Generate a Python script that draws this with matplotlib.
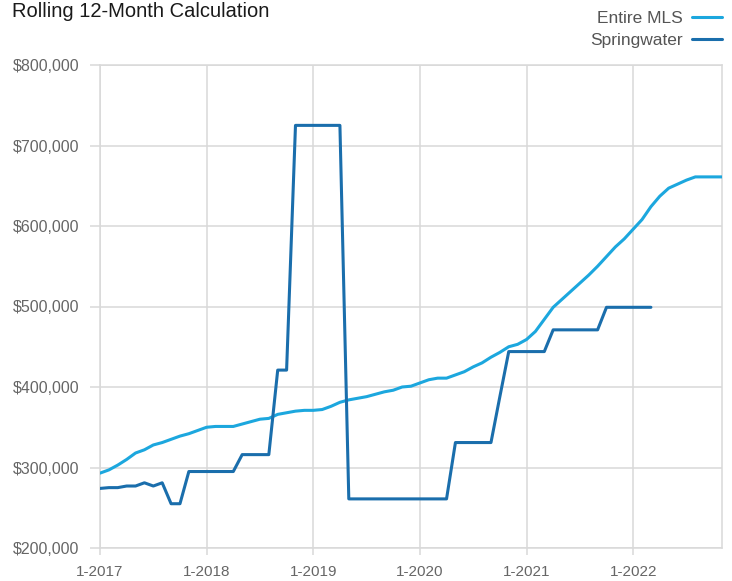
import matplotlib
matplotlib.use("Agg")
import matplotlib.pyplot as plt
from matplotlib.ticker import FuncFormatter

plt.rcParams['font.family'] = ['Liberation Sans', 'DejaVu Sans']

# month index 0 = 1-2017 ... 70 = 11-2022, values in $ thousands
months_mls = list(range(71))
entire_mls = [293, 297, 303, 310, 318, 322, 328, 331, 335, 339,
              342, 346, 350, 351, 351, 351, 354, 357, 360, 361,
              366, 368, 370, 371, 371, 372, 376, 381, 384, 386,
              388, 391, 394, 396, 400, 401, 405, 409, 411, 411,
              415, 419, 425, 430, 437, 443, 450, 453, 459, 469,
              484, 499, 509, 519, 529, 539, 550, 562, 574, 584,
              596, 608, 624, 637, 647, 652, 657, 661, 661, 661,
              661]

months_sw = list(range(63))
springwater = [274, 275, 275, 277, 277, 281, 277, 281, 255, 255,
               295, 295, 295, 295, 295, 295, 316, 316, 316, 316,
               421, 421, 725, 725, 725, 725, 725, 725, 261, 261,
               261, 261, 261, 261, 261, 261, 261, 261, 261, 261,
               331, 331, 331, 331, 331, 388, 444, 444, 444, 444,
               444, 471, 471, 471, 471, 471, 471, 499, 499, 499,
               499, 499, 499]

tick_pos = [0, 12, 24, 36, 48, 60]
tick_labels = ['1-2017', '1-2018', '1-2019', '1-2020', '1-2021', '1-2022']
y_ticks = [200, 300, 400, 500, 600, 700, 800]

c_mls = '#1ca7de'
c_sw = '#1a6eac'
grid_c = '#d9d9d9'
txt_c = '#666666'

fig = plt.figure(figsize=(7.32, 5.81), dpi=100)
ax = fig.add_axes([100/732, 1 - 548/581, 622/732, 483/581])

ax.plot(months_mls, entire_mls, color=c_mls, lw=2.2, label='Entire MLS',
        solid_joinstyle='round', solid_capstyle='round', zorder=3)
ax.plot(months_sw, springwater, color=c_sw, lw=2.2, label='Springwater',
        solid_joinstyle='round', solid_capstyle='round', zorder=3)

ax.set_xlim(0, 70)
ax.set_ylim(200, 800)
ax.set_xticks(tick_pos)
ax.set_xticklabels(tick_labels)
ax.set_yticks(y_ticks)
ax.yaxis.set_major_formatter(FuncFormatter(lambda v, p: '${:,.0f}'.format(v * 1000)))

ax.grid(True, color=grid_c, lw=1.1)
ax.set_axisbelow(True)
for s in ax.spines.values():
    s.set_color(grid_c)
    s.set_linewidth(1.1)
ax.tick_params(axis='x', length=5, width=1.1, color=grid_c, labelcolor=txt_c,
               labelsize=11, pad=7)
ax.tick_params(axis='y', length=7, width=1.1, color=grid_c, labelcolor=txt_c,
               labelsize=11.5, pad=8)

fig.text(12/732, 1 - 2/581, 'Rolling 12-Month Calculation', fontsize=14.5,
         color='#1a1a1a', ha='left', va='top')

leg = ax.legend(loc='upper right', bbox_to_anchor=(722/732, 1 - 11/581),
                bbox_transform=fig.transFigure, frameon=False, markerfirst=False,
                fontsize=12.5, handlelength=1.7, handletextpad=0.55,
                labelspacing=0.4, borderpad=0, borderaxespad=0)
for t in leg.get_texts():
    t.set_color('#555555')

fig.savefig('out.png', dpi=100)
